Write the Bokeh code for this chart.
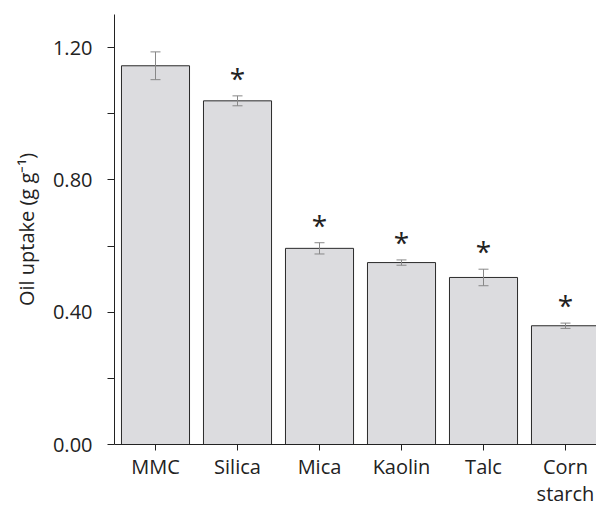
from bokeh.plotting import figure
from bokeh.models import ColumnDataSource, Range1d, FixedTicker, Whisker, TeeHead
from bokeh.core.properties import value
from bokeh.embed import file_html
from bokeh.resources import INLINE

categories = ["MMC", "Silica", "Mica", "Kaolin", "Talc", "Corn\nstarch"]
means = [1.145, 1.039, 0.593, 0.550, 0.505, 0.359]
errors = [0.042, 0.015, 0.017, 0.008, 0.025, 0.008]
significant = [False, True, True, True, True, True]
y_ticks = [0.0, 0.4, 0.8, 1.2]
y_minor = [0.2, 0.6, 1.0]
y_label = "Oil uptake (g g\u207b\u00b9)"

FONT = "Open Sans"
TXT = "#222222"
xs = list(range(len(categories)))
src = ColumnDataSource(dict(
    x=xs, top=means,
    upper=[m + e for m, e in zip(means, errors)],
    lower=[m - e for m, e in zip(means, errors)],
))

p = figure(width=596, height=509, output_backend="svg", toolbar_location=None,
           x_range=Range1d(-0.5, 5.378), y_range=Range1d(0, 1.3),
           min_border_left=114, min_border_right=0, min_border_top=14, min_border_bottom=65)
p.outline_line_color = None
p.grid.visible = False
p.background_fill_color = "white"

p.vbar(x="x", top="top", width=0.83, bottom=0, source=src,
       fill_color="#dcdcdf", line_color="#2a2a2a", line_width=1)

w = Whisker(base="x", upper="upper", lower="lower", source=src, level="overlay",
            line_color="#888888", line_width=1,
            upper_head=TeeHead(size=10, line_color="#888888", line_width=1),
            lower_head=TeeHead(size=10, line_color="#888888", line_width=1))
p.add_layout(w)

sx = [x for x, s in zip(xs, significant) if s]
sy = [m + e for m, e, s in zip(means, errors, significant) if s]
p.text(x=sx, y=sy, text=["*"] * len(sx), text_align="center", text_baseline="alphabetic",
       y_offset=-18, text_font=value(FONT), text_font_size="28px", text_color=TXT)

# y axis
p.yaxis.ticker = FixedTicker(ticks=y_ticks, minor_ticks=y_minor)
p.yaxis.major_label_overrides = {t: f"{t:.2f}" for t in y_ticks}
p.yaxis.major_label_text_font = FONT
p.yaxis.major_label_text_font_size = "20px"
p.yaxis.major_label_text_color = TXT
p.yaxis.major_tick_out = 7
p.yaxis.major_tick_in = 0
p.yaxis.minor_tick_out = 7
p.yaxis.minor_tick_in = 0
p.yaxis.major_label_standoff = 15
p.yaxis.axis_line_color = TXT
p.yaxis.major_tick_line_color = TXT
p.yaxis.minor_tick_line_color = TXT
p.yaxis.axis_label = y_label
p.yaxis.axis_label_text_font = FONT
p.yaxis.axis_label_text_font_size = "20px"
p.yaxis.axis_label_text_font_style = "normal"
p.yaxis.axis_label_text_color = TXT
p.yaxis.axis_label_standoff = 10

# x axis
p.xaxis.ticker = FixedTicker(ticks=xs)
p.xaxis.major_label_overrides = {i: c for i, c in zip(xs, categories)}
p.xaxis.major_label_text_font = FONT
p.xaxis.major_label_text_font_size = "20px"
p.xaxis.major_label_text_color = TXT
p.xaxis.major_label_text_line_height = 1.0
p.xaxis.major_tick_out = 6
p.xaxis.major_tick_in = 0
p.xaxis.minor_tick_line_color = None
p.xaxis.major_label_standoff = 2
p.xaxis.axis_line_color = TXT
p.xaxis.major_tick_line_color = TXT

open("out.html", "w").write(file_html(p, INLINE))
